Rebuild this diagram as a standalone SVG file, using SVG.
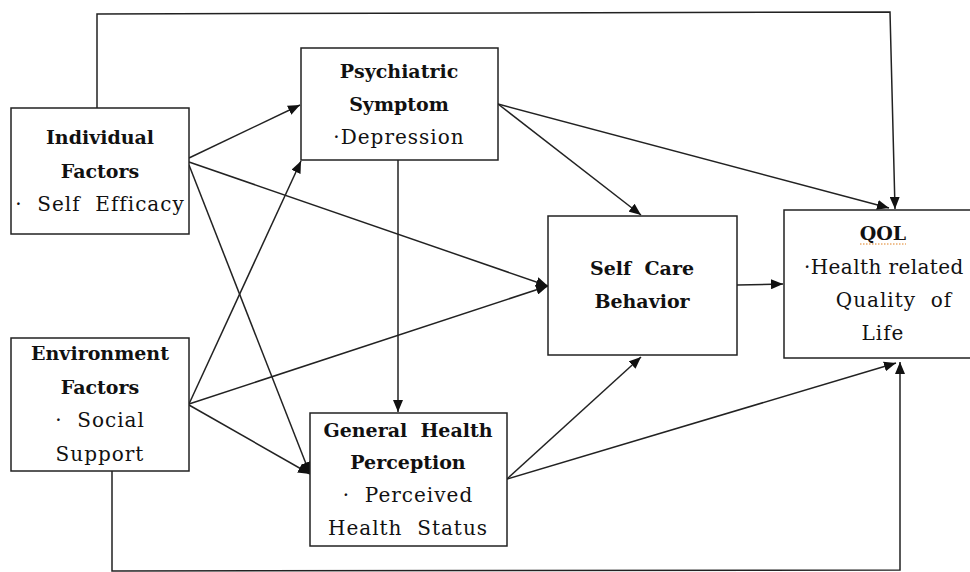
<svg xmlns="http://www.w3.org/2000/svg" width="970" height="572" viewBox="0 0 970 572">
<defs>
<marker id="ah" viewBox="0 0 12 10" refX="12" refY="5" markerWidth="12" markerHeight="10" markerUnits="userSpaceOnUse" orient="auto">
<path d="M0,0 L12,5 L0,10 Z" fill="#111"/>
</marker>
<style>
.box{fill:#fff;stroke:#222;stroke-width:1.5}
.c{fill:none;stroke:#222;stroke-width:1.5}
.a{marker-end:url(#ah)}
text{font-family:"DejaVu Serif","Liberation Serif",serif;font-size:19px;fill:#111;text-anchor:middle;white-space:pre}
.b{font-weight:bold}
.r{font-size:20px;letter-spacing:1px}
</style>
</defs>
<rect width="970" height="572" fill="#fff"/>
<g id="connectors">
<polyline class="c a" points="97,108 97,14 890,12 895,209"/>
<polyline class="c a" points="112,471 112,571 900,570 900,362"/>
<line class="c a" x1="189" y1="158" x2="300" y2="105"/>
<line class="c a" x1="189" y1="162" x2="548" y2="286"/>
<line class="c a" x1="189" y1="165" x2="310" y2="474"/>
<line class="c a" x1="189" y1="404" x2="301" y2="161"/>
<line class="c a" x1="189" y1="404" x2="548" y2="286"/>
<line class="c a" x1="189" y1="405" x2="310" y2="474"/>
<line class="c a" x1="398" y1="160" x2="398" y2="412"/>
<line class="c a" x1="498" y1="104" x2="641" y2="215"/>
<line class="c a" x1="498" y1="104" x2="889" y2="208"/>
<line class="c a" x1="737" y1="285" x2="783" y2="284"/>
<line class="c a" x1="507" y1="479" x2="641" y2="357"/>
<line class="c a" x1="507" y1="479" x2="896" y2="363"/>
</g>
<g id="individual">
<rect class="box" x="11" y="108" width="178" height="126"/>
<text class="b" x="100" y="144">Individual</text>
<text class="b" x="100" y="178">Factors</text>
<text class="r" x="100" y="211" xml:space="preserve">·  Self  Efficacy</text>
</g>
<g id="psychiatric">
<rect class="box" x="301" y="48" width="197" height="112"/>
<text class="b" x="399" y="78">Psychiatric</text>
<text class="b" x="399" y="111">Symptom</text>
<text class="r" x="399" y="144">·Depression</text>
</g>
<g id="environment">
<rect class="box" x="11" y="338" width="178" height="133"/>
<text class="b" x="100" y="360">Environment</text>
<text class="b" x="100" y="394">Factors</text>
<text class="r" x="100" y="427" xml:space="preserve">·  Social</text>
<text class="r" x="100" y="461">Support</text>
</g>
<g id="general">
<rect class="box" x="310" y="413" width="197" height="133"/>
<text class="b" x="408" y="437" xml:space="preserve">General  Health</text>
<text class="b" x="408" y="469">Perception</text>
<text class="r" x="408" y="502" xml:space="preserve">·  Perceived</text>
<text class="r" x="408" y="535" xml:space="preserve">Health  Status</text>
</g>
<g id="selfcare">
<rect class="box" x="548" y="216" width="189" height="139"/>
<text class="b" x="642" y="275" xml:space="preserve">Self  Care</text>
<text class="b" x="642" y="308">Behavior</text>
</g>
<g id="qol">
<rect class="box" x="784" y="210" width="200" height="148"/>
<text class="b" x="883" y="240">QOL</text>
<line x1="860" y1="244" x2="906" y2="244" stroke="#e08020" stroke-width="1" stroke-dasharray="1.5,1.5"/>
<text class="r" x="804" y="274" style="text-anchor:start;letter-spacing:0.4px" xml:space="preserve">·Health related</text>
<text class="r" x="894" y="307" xml:space="preserve">Quality  of</text>
<text class="r" x="883" y="340">Life</text>
</g>
</svg>
